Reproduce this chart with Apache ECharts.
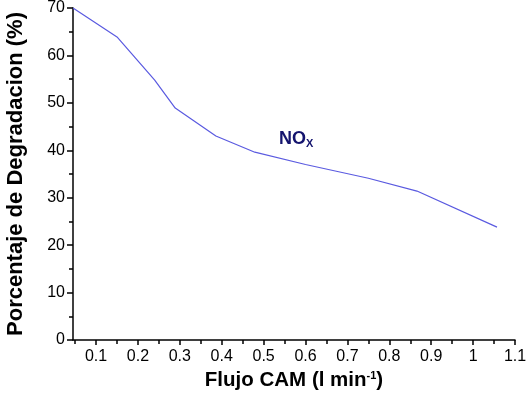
<!DOCTYPE html>
<html lang="es">
<head>
  <meta charset="UTF-8">
  <script src="https://cdn.jsdelivr.net/npm/echarts@6/dist/echarts.min.js"></script>
  <style>
    html, body { margin: 0; padding: 0; background: #fff; }
    #container { width: 527px; height: 395px; }
  </style>
</head>
<body>
  <div id="container"></div>
  <script>
    // datos
    var flujo = [0.045, 0.15, 0.24, 0.289, 0.386, 0.479, 0.6, 0.75, 0.866, 1.057];
    var degradacion = [70, 63.9, 54.8, 48.9, 43, 39.6, 37, 34.1, 31.4, 23.8];
    var xTicks = [0.1, 0.2, 0.3, 0.4, 0.5, 0.6, 0.7, 0.8, 0.9, 1, 1.1];
    var xMinor = [0.05, 0.15, 0.25, 0.35, 0.45, 0.55, 0.65, 0.75, 0.85, 0.95, 1.05];

    var points = [];
    for (var i = 0; i < flujo.length; i++) {
      points.push([flujo[i], degradacion[i]]);
    }

    var font = 'Liberation Sans, Arial, sans-serif';
    var chart = echarts.init(document.getElementById('container'));

    var option = {
      animation: false,
      grid: { left: 73, top: 8, right: 12, bottom: 55, outerBoundsMode: 'none' },
      xAxis: [{
        type: 'value',
        min: 0.045,
        max: 1.1,
        name: '{a|Flujo CAM (l min}{s|-1}{a|)}',
        nameLocation: 'middle',
        nameGap: 30,
        nameTextStyle: {
          rich: {
            a: { fontFamily: font, fontSize: 20.5, fontWeight: 'bold', color: '#000' },
            s: { fontFamily: font, fontSize: 11, fontWeight: 'bold', color: '#000', verticalAlign: 'top', padding: [0, 0, 9, 0] }
          }
        },
        axisLine: { show: true, onZero: false, lineStyle: { color: '#000', width: 1.5 } },
        axisTick: { show: true, customValues: xTicks, length: 5, lineStyle: { color: '#000', width: 1.5 } },
        axisLabel: { customValues: xTicks, color: '#000', fontFamily: font, fontSize: 16, margin: 9 },
        splitLine: { show: false }
      }, {
        type: 'value',
        position: 'bottom',
        min: 0.045,
        max: 1.1,
        axisLine: { show: false },
        axisTick: { show: true, customValues: xMinor, length: 4, lineStyle: { color: '#000', width: 1.5 } },
        axisLabel: { show: false },
        splitLine: { show: false }
      }],
      yAxis: {
        type: 'value',
        min: 0,
        max: 70,
        interval: 10,
        name: 'Porcentaje de Degradacion (%)',
        nameLocation: 'middle',
        nameGap: 46,
        nameTextStyle: { fontFamily: font, fontSize: 22, fontWeight: 'bold', color: '#000' },
        axisLine: { show: true, lineStyle: { color: '#000', width: 1.5 } },
        axisTick: { show: true, length: 6, lineStyle: { color: '#000', width: 1.5 } },
        minorTick: { show: true, splitNumber: 2, length: 4, lineStyle: { color: '#000', width: 1.5 } },
        axisLabel: { color: '#000', fontFamily: font, fontSize: 16, margin: 8 },
        splitLine: { show: false }
      },
      graphic: [{
        type: 'text',
        left: 279,
        top: 130,
        style: {
          text: '{n|NO}{x|X}',
          rich: {
            n: { fontFamily: font, fontSize: 18, fontWeight: 'bold', fill: '#14146e' },
            x: { fontFamily: font, fontSize: 11, fontWeight: 'bold', fill: '#14146e', verticalAlign: 'bottom', padding: [9, 0, 0, 0] }
          }
        }
      }],
      series: [{
        type: 'line',
        data: points,
        showSymbol: false,
        lineStyle: { color: '#5a5ae0', width: 1.2 }
      }]
    };

    chart.setOption(option);
  </script>
</body>
</html>
